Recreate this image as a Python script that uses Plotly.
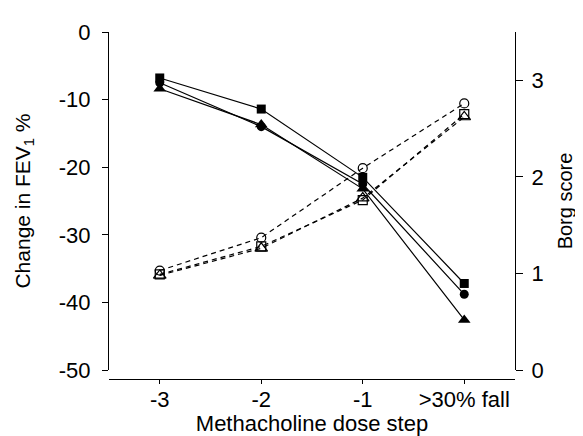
import plotly.graph_objects as go

dose_steps = ["-3", "-2", "-1", ">30% fall"]
fev_square = [-6.8, -11.4, -21.5, -37.2]
fev_circle = [-7.5, -14.0, -22.5, -38.8]
fev_triangle = [-8.4, -13.7, -23.2, -42.6]
borg_circle = [1.03, 1.37, 2.09, 2.76]
borg_square = [0.99, 1.28, 1.76, 2.65]
borg_triangle = [0.98, 1.26, 1.78, 2.62]
fev_ticks = [0, -10, -20, -30, -40, -50]
fev_tick_text = ["0", "-10", "-20", "-30", "-40", "-50"]
borg_ticks = [0, 1, 2, 3]

FONT = "Liberation Sans, Arial, sans-serif"
W, H = 583, 436
ml, mr, mt, mb = 101, 76, 24, 65
plot_h = H - mt - mb
ydom0 = 9 / plot_h

fig = go.Figure()

def solid(y, sym, size):
    fig.add_trace(go.Scatter(
        x=dose_steps, y=y, mode="lines+markers", yaxis="y",
        line=dict(color="black", width=1.2),
        marker=dict(symbol=sym, size=size, color="black"),
        showlegend=False))

def dashed(y, sym, size):
    fig.add_trace(go.Scatter(
        x=dose_steps, y=y, mode="lines+markers", yaxis="y2",
        line=dict(color="black", width=1.2, dash="5px,4px"),
        marker=dict(symbol=sym, size=size, color="black",
                    line=dict(color="black", width=1.2)),
        showlegend=False))

dashed(borg_circle, "circle-open", 9)
dashed(borg_square, "square-open", 9)
dashed(borg_triangle, "triangle-up-open", 11)
solid(fev_square, "square", 9)
solid(fev_circle, "circle", 9)
solid(fev_triangle, "triangle-up", 11)

fig.update_layout(
    width=W, height=H,
    margin=dict(l=ml, r=mr, t=mt, b=mb),
    paper_bgcolor="white", plot_bgcolor="white",
    font=dict(family=FONT, size=22, color="black"),
    xaxis=dict(
        type="category", range=[-0.5, 3.5], anchor="free", position=0,
        showline=True, linecolor="black", linewidth=1.2,
        ticks="outside", ticklen=4, tickcolor="black", tickwidth=1.2,
        showgrid=False, zeroline=False, ticklabelstandoff=-4,
        tickfont=dict(size=22),
        title=dict(text="Methacholine dose step", font=dict(size=22), standoff=5),
    ),
    yaxis=dict(
        domain=[ydom0, 1], range=[-50, 0],
        tickvals=fev_ticks, ticktext=fev_tick_text,
        showline=True, linecolor="black", linewidth=1.2,
        ticks="outside", ticklen=6, tickcolor="black", tickwidth=1.2,
        showgrid=False, zeroline=False, ticklabelstandoff=7,
        tickfont=dict(size=22),
        title=dict(text="Change in FEV<sub>1</sub> %", font=dict(size=21), standoff=22),
    ),
    yaxis2=dict(
        overlaying="y", side="right", anchor="x", range=[0, 3.5],
        tickvals=borg_ticks,
        showline=True, linecolor="black", linewidth=1.2,
        ticks="outside", ticklen=7, tickcolor="black", tickwidth=1.2,
        showgrid=False, zeroline=False, ticklabelstandoff=4,
        tickfont=dict(size=22),
        title=dict(text="Borg score", font=dict(size=20), standoff=15),
    ),
)

fig.write_html("out.html")
